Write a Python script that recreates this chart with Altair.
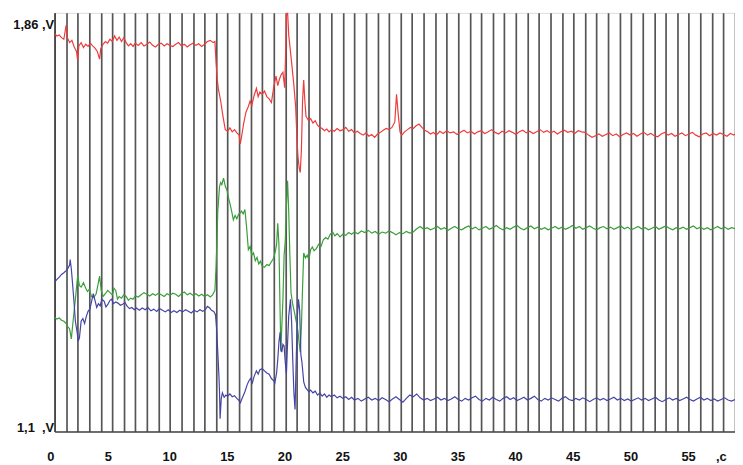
import altair as alt
import pandas as pd

# (time s, voltage V) samples
RED = [
    (0.0, 1.822), (0.2, 1.818), (0.4, 1.820), (0.6, 1.815), (0.8, 1.812), (1.0, 1.838), (1.1, 1.815),
    (1.3, 1.806), (1.5, 1.810), (1.7, 1.798), (1.9, 1.790), (2.0, 1.773), (2.1, 1.800), (2.3, 1.806),
    (2.5, 1.797), (2.7, 1.803), (2.9, 1.799), (3.1, 1.805), (3.3, 1.800), (3.5, 1.796), (3.7, 1.790),
    (3.9, 1.776), (4.0, 1.795), (4.2, 1.803), (4.4, 1.808), (4.6, 1.805), (4.8, 1.812), (5.0, 1.808),
    (5.2, 1.818), (5.4, 1.810), (5.6, 1.816), (5.8, 1.808), (6.0, 1.815), (6.2, 1.806), (6.4, 1.800),
    (6.6, 1.804), (6.8, 1.799), (7.0, 1.805), (7.25, 1.801), (7.5, 1.806), (7.75, 1.800), (8.0, 1.803),
    (8.25, 1.807), (8.5, 1.801), (8.75, 1.798), (9.0, 1.803), (9.25, 1.805), (9.5, 1.800), (9.75, 1.804),
    (10.0, 1.801), (10.25, 1.799), (10.5, 1.803), (10.75, 1.806), (11.0, 1.800), (11.25, 1.803),
    (11.5, 1.798), (11.75, 1.802), (12.0, 1.805), (12.25, 1.801), (12.5, 1.804), (12.75, 1.799),
    (13.0, 1.803), (13.25, 1.808), (13.5, 1.810), (13.75, 1.806), (13.9, 1.808), (14.0, 1.770),
    (14.1, 1.740), (14.2, 1.722), (14.4, 1.700), (14.6, 1.672), (14.8, 1.648), (15.0, 1.645),
    (15.2, 1.651), (15.4, 1.644), (15.6, 1.648), (15.8, 1.642), (16.0, 1.638), (16.1, 1.622),
    (16.25, 1.640), (16.4, 1.660), (16.6, 1.680), (16.8, 1.690), (16.95, 1.700), (17.1, 1.692),
    (17.3, 1.710), (17.5, 1.723), (17.65, 1.708), (17.8, 1.716), (18.0, 1.712), (18.2, 1.718),
    (18.4, 1.708), (18.6, 1.704), (18.8, 1.697), (19.0, 1.725), (19.2, 1.745), (19.35, 1.728),
    (19.5, 1.740), (19.65, 1.748), (19.8, 1.752), (19.95, 1.724), (20.05, 1.800), (20.1, 1.855),
    (20.2, 1.862), (20.3, 1.820), (20.45, 1.790), (20.6, 1.760), (20.75, 1.728), (20.9, 1.690),
    (21.0, 1.640), (21.1, 1.600), (21.2, 1.580), (21.3, 1.570), (21.4, 1.610), (21.5, 1.700),
    (21.6, 1.738), (21.7, 1.700), (21.8, 1.672), (22.0, 1.665), (22.2, 1.668), (22.4, 1.660),
    (22.6, 1.664), (22.8, 1.656), (23.0, 1.652), (23.2, 1.650), (23.4, 1.646), (23.6, 1.649),
    (23.8, 1.644), (24.0, 1.648), (24.25, 1.645), (24.5, 1.650), (24.75, 1.646), (25.0, 1.648),
    (25.25, 1.652), (25.5, 1.645), (25.75, 1.648), (26.0, 1.642), (26.25, 1.645), (26.5, 1.641),
    (26.75, 1.638), (27.0, 1.642), (27.25, 1.636), (27.5, 1.639), (27.75, 1.634), (28.0, 1.640),
    (28.25, 1.643), (28.5, 1.647), (28.75, 1.650), (29.0, 1.648), (29.25, 1.652), (29.5, 1.662),
    (29.65, 1.712), (29.8, 1.675), (29.95, 1.644), (30.1, 1.638), (30.35, 1.644), (30.6, 1.648),
    (30.85, 1.652), (31.1, 1.650), (31.35, 1.655), (31.6, 1.658), (31.85, 1.652), (32.1, 1.647),
    (32.35, 1.644), (32.6, 1.640), (32.85, 1.643), (33.1, 1.638), (33.4, 1.645), (33.7, 1.641),
    (34.0, 1.646), (34.3, 1.642), (34.6, 1.644), (34.9, 1.639), (35.2, 1.643), (35.5, 1.647),
    (35.8, 1.642), (36.1, 1.645), (36.4, 1.640), (36.7, 1.644), (37.0, 1.646), (37.3, 1.641),
    (37.6, 1.644), (37.9, 1.648), (38.2, 1.643), (38.5, 1.640), (38.8, 1.645), (39.1, 1.642),
    (39.4, 1.646), (39.7, 1.643), (40.0, 1.639), (40.3, 1.644), (40.6, 1.647), (40.9, 1.642),
    (41.2, 1.645), (41.5, 1.641), (41.8, 1.644), (42.1, 1.648), (42.4, 1.643), (42.7, 1.646),
    (43.0, 1.642), (43.3, 1.645), (43.6, 1.640), (43.9, 1.644), (44.2, 1.647), (44.5, 1.643),
    (44.8, 1.645), (45.1, 1.641), (45.4, 1.646), (45.7, 1.644), (46.0, 1.643), (46.3, 1.638),
    (46.6, 1.634), (46.9, 1.637), (47.2, 1.640), (47.5, 1.636), (47.8, 1.639), (48.1, 1.642),
    (48.4, 1.637), (48.7, 1.640), (49.0, 1.635), (49.3, 1.639), (49.6, 1.642), (49.9, 1.638),
    (50.2, 1.641), (50.5, 1.636), (50.8, 1.640), (51.1, 1.643), (51.4, 1.638), (51.7, 1.641),
    (52.0, 1.637), (52.3, 1.635), (52.6, 1.640), (52.9, 1.643), (53.2, 1.638), (53.5, 1.641),
    (53.8, 1.636), (54.1, 1.639), (54.4, 1.642), (54.7, 1.637), (55.0, 1.640), (55.3, 1.643),
    (55.6, 1.638), (55.9, 1.635), (56.2, 1.640), (56.5, 1.642), (56.8, 1.637), (57.1, 1.641),
    (57.4, 1.638), (57.7, 1.642), (58.0, 1.639), (58.3, 1.636), (58.6, 1.641), (58.9, 1.638),
    (59.0, 1.640),
]

GREEN = [
    (0.0, 1.307), (0.2, 1.304), (0.4, 1.306), (0.6, 1.302), (0.8, 1.300), (1.0, 1.296), (1.15, 1.290),
    (1.3, 1.286), (1.45, 1.268), (1.6, 1.300), (1.8, 1.340), (2.0, 1.383), (2.15, 1.365), (2.3, 1.362),
    (2.5, 1.370), (2.7, 1.360), (2.85, 1.354), (3.0, 1.358), (3.2, 1.345), (3.4, 1.343), (3.6, 1.350),
    (3.75, 1.365), (3.9, 1.382), (4.05, 1.355), (4.2, 1.345), (4.4, 1.350), (4.6, 1.356), (4.8, 1.352),
    (5.0, 1.348), (5.15, 1.360), (5.3, 1.356), (5.45, 1.340), (5.6, 1.345), (5.8, 1.342), (6.0, 1.348),
    (6.2, 1.345), (6.4, 1.338), (6.6, 1.342), (6.8, 1.340), (7.0, 1.346), (7.25, 1.344), (7.5, 1.348),
    (7.75, 1.352), (8.0, 1.349), (8.25, 1.346), (8.5, 1.350), (8.75, 1.347), (9.0, 1.351), (9.25, 1.348),
    (9.5, 1.345), (9.75, 1.350), (10.0, 1.347), (10.25, 1.351), (10.5, 1.349), (10.75, 1.345),
    (11.0, 1.350), (11.25, 1.353), (11.5, 1.348), (11.75, 1.351), (12.0, 1.347), (12.25, 1.350),
    (12.5, 1.346), (12.75, 1.349), (13.0, 1.345), (13.25, 1.348), (13.5, 1.344), (13.7, 1.348),
    (13.9, 1.356), (14.0, 1.400), (14.05, 1.430), (14.15, 1.500), (14.3, 1.545), (14.4, 1.552),
    (14.5, 1.548), (14.65, 1.560), (14.8, 1.545), (14.95, 1.538), (15.1, 1.522), (15.2, 1.514),
    (15.35, 1.500), (15.5, 1.484), (15.65, 1.492), (15.8, 1.486), (15.95, 1.494), (16.1, 1.497),
    (16.2, 1.500), (16.35, 1.495), (16.5, 1.503), (16.65, 1.470), (16.8, 1.430), (16.95, 1.436),
    (17.1, 1.420), (17.25, 1.424), (17.4, 1.410), (17.55, 1.416), (17.7, 1.404), (17.85, 1.409),
    (18.0, 1.400), (18.2, 1.398), (18.4, 1.403), (18.6, 1.401), (18.8, 1.408), (19.0, 1.415),
    (19.15, 1.428), (19.25, 1.440), (19.35, 1.478), (19.45, 1.440), (19.55, 1.320), (19.62, 1.245),
    (19.7, 1.290), (19.8, 1.340), (19.9, 1.420), (20.0, 1.445), (20.1, 1.510), (20.2, 1.555),
    (20.3, 1.500), (20.4, 1.420), (20.5, 1.352), (20.65, 1.330), (20.8, 1.316), (20.95, 1.300),
    (21.1, 1.282), (21.2, 1.262), (21.3, 1.244), (21.4, 1.290), (21.5, 1.360), (21.6, 1.424),
    (21.75, 1.415), (21.9, 1.420), (22.05, 1.412), (22.2, 1.430), (22.35, 1.435), (22.5, 1.428),
    (22.7, 1.432), (22.9, 1.440), (23.1, 1.436), (23.3, 1.448), (23.5, 1.452), (23.7, 1.449),
    (23.9, 1.458), (24.1, 1.462), (24.3, 1.455), (24.5, 1.459), (24.75, 1.453), (25.0, 1.458),
    (25.25, 1.456), (25.5, 1.461), (25.75, 1.458), (26.0, 1.462), (26.3, 1.459), (26.6, 1.464),
    (26.9, 1.461), (27.2, 1.465), (27.5, 1.460), (27.8, 1.463), (28.1, 1.458), (28.4, 1.462),
    (28.7, 1.460), (29.0, 1.464), (29.3, 1.461), (29.6, 1.457), (29.9, 1.461), (30.2, 1.459),
    (30.5, 1.463), (30.8, 1.460), (31.1, 1.462), (31.4, 1.468), (31.7, 1.472), (32.0, 1.467),
    (32.3, 1.470), (32.6, 1.466), (32.9, 1.469), (33.2, 1.472), (33.5, 1.467), (33.8, 1.470),
    (34.1, 1.465), (34.4, 1.469), (34.7, 1.472), (35.0, 1.468), (35.3, 1.466), (35.6, 1.470),
    (35.9, 1.473), (36.2, 1.468), (36.5, 1.471), (36.8, 1.466), (37.1, 1.469), (37.4, 1.472),
    (37.7, 1.467), (38.0, 1.470), (38.3, 1.474), (38.6, 1.469), (38.9, 1.466), (39.2, 1.470),
    (39.5, 1.467), (39.8, 1.471), (40.1, 1.474), (40.4, 1.469), (40.7, 1.466), (41.0, 1.470),
    (41.3, 1.473), (41.6, 1.468), (41.9, 1.471), (42.2, 1.467), (42.5, 1.470), (42.8, 1.466),
    (43.1, 1.469), (43.4, 1.472), (43.7, 1.468), (44.0, 1.471), (44.3, 1.467), (44.6, 1.470),
    (44.9, 1.474), (45.2, 1.469), (45.5, 1.472), (45.8, 1.467), (46.1, 1.470), (46.4, 1.473),
    (46.7, 1.469), (47.0, 1.466), (47.3, 1.470), (47.6, 1.472), (47.9, 1.468), (48.2, 1.471),
    (48.5, 1.467), (48.8, 1.470), (49.1, 1.473), (49.4, 1.468), (49.7, 1.471), (50.0, 1.466),
    (50.3, 1.469), (50.6, 1.472), (50.9, 1.468), (51.2, 1.470), (51.5, 1.466), (51.8, 1.469),
    (52.1, 1.472), (52.4, 1.467), (52.7, 1.470), (53.0, 1.473), (53.3, 1.469), (53.6, 1.466),
    (53.9, 1.470), (54.2, 1.468), (54.5, 1.471), (54.8, 1.467), (55.1, 1.470), (55.4, 1.473),
    (55.7, 1.468), (56.0, 1.471), (56.3, 1.467), (56.6, 1.470), (56.9, 1.466), (57.2, 1.469),
    (57.5, 1.472), (57.8, 1.468), (58.1, 1.471), (58.4, 1.467), (58.7, 1.470), (59.0, 1.468),
]

BLUE = [
    (0.0, 1.371), (0.2, 1.376), (0.4, 1.380), (0.6, 1.385), (0.8, 1.388), (1.0, 1.392), (1.15, 1.396),
    (1.3, 1.402), (1.35, 1.412), (1.45, 1.395), (1.55, 1.370), (1.7, 1.330), (1.8, 1.300), (1.95, 1.280),
    (2.05, 1.264), (2.15, 1.270), (2.3, 1.300), (2.45, 1.305), (2.6, 1.296), (2.75, 1.309), (2.9, 1.318),
    (3.05, 1.322), (3.2, 1.335), (3.35, 1.350), (3.5, 1.338), (3.65, 1.325), (3.8, 1.332), (3.95, 1.328),
    (4.1, 1.340), (4.3, 1.336), (4.45, 1.326), (4.6, 1.330), (4.8, 1.338), (4.95, 1.340), (5.1, 1.332),
    (5.3, 1.335), (5.5, 1.333), (5.7, 1.329), (5.9, 1.331), (6.1, 1.334), (6.3, 1.327), (6.5, 1.323),
    (6.7, 1.325), (6.9, 1.321), (7.1, 1.324), (7.35, 1.320), (7.6, 1.324), (7.85, 1.321), (8.1, 1.325),
    (8.35, 1.319), (8.6, 1.322), (8.85, 1.318), (9.1, 1.323), (9.35, 1.320), (9.6, 1.317), (9.85, 1.321),
    (10.1, 1.316), (10.35, 1.319), (10.6, 1.316), (10.85, 1.320), (11.1, 1.317), (11.35, 1.321),
    (11.6, 1.318), (11.85, 1.315), (12.1, 1.320), (12.35, 1.317), (12.6, 1.321), (12.85, 1.318),
    (13.1, 1.322), (13.25, 1.327), (13.45, 1.324), (13.6, 1.320), (13.8, 1.318), (13.95, 1.312),
    (14.05, 1.286), (14.15, 1.244), (14.25, 1.200), (14.3, 1.172), (14.35, 1.123), (14.45, 1.160),
    (14.55, 1.170), (14.7, 1.162), (14.85, 1.166), (15.0, 1.164), (15.2, 1.168), (15.4, 1.163),
    (15.6, 1.165), (15.8, 1.160), (16.0, 1.156), (16.1, 1.152), (16.3, 1.162), (16.5, 1.172),
    (16.7, 1.185), (16.85, 1.192), (17.0, 1.196), (17.15, 1.188), (17.3, 1.200), (17.5, 1.210),
    (17.65, 1.204), (17.8, 1.212), (18.0, 1.214), (18.2, 1.210), (18.4, 1.206), (18.6, 1.204),
    (18.8, 1.196), (19.0, 1.192), (19.1, 1.188), (19.25, 1.206), (19.35, 1.230), (19.45, 1.262),
    (19.55, 1.280), (19.62, 1.250), (19.7, 1.244), (19.8, 1.258), (19.9, 1.255), (20.0, 1.225),
    (20.1, 1.205), (20.2, 1.260), (20.3, 1.309), (20.45, 1.340), (20.55, 1.300), (20.65, 1.230),
    (20.75, 1.170), (20.85, 1.140), (20.95, 1.230), (21.05, 1.309), (21.15, 1.340), (21.25, 1.320),
    (21.35, 1.240), (21.45, 1.225), (21.6, 1.190), (21.75, 1.180), (21.9, 1.176), (22.05, 1.172),
    (22.2, 1.175), (22.4, 1.170), (22.6, 1.173), (22.8, 1.166), (23.0, 1.170), (23.2, 1.164),
    (23.4, 1.168), (23.6, 1.162), (23.8, 1.166), (24.0, 1.163), (24.25, 1.166), (24.5, 1.161),
    (24.75, 1.164), (25.0, 1.160), (25.25, 1.163), (25.5, 1.158), (25.75, 1.162), (26.0, 1.157),
    (26.3, 1.160), (26.6, 1.155), (26.9, 1.159), (27.2, 1.162), (27.5, 1.157), (27.8, 1.160),
    (28.1, 1.156), (28.4, 1.161), (28.7, 1.158), (29.0, 1.154), (29.3, 1.159), (29.6, 1.163),
    (29.9, 1.158), (30.2, 1.153), (30.5, 1.160), (30.8, 1.166), (31.1, 1.163), (31.4, 1.168),
    (31.7, 1.161), (32.0, 1.157), (32.3, 1.160), (32.6, 1.156), (32.9, 1.159), (33.2, 1.162),
    (33.5, 1.157), (33.8, 1.160), (34.1, 1.156), (34.4, 1.159), (34.7, 1.163), (35.0, 1.158),
    (35.3, 1.155), (35.6, 1.160), (35.9, 1.157), (36.2, 1.161), (36.5, 1.164), (36.8, 1.158),
    (37.1, 1.155), (37.4, 1.160), (37.7, 1.157), (38.0, 1.162), (38.3, 1.158), (38.6, 1.155),
    (38.9, 1.160), (39.2, 1.163), (39.5, 1.158), (39.8, 1.161), (40.1, 1.156), (40.4, 1.159),
    (40.7, 1.162), (41.0, 1.157), (41.3, 1.160), (41.6, 1.164), (41.9, 1.158), (42.2, 1.155),
    (42.5, 1.160), (42.8, 1.157), (43.1, 1.161), (43.4, 1.158), (43.7, 1.155), (44.0, 1.160),
    (44.3, 1.163), (44.6, 1.158), (44.9, 1.156), (45.2, 1.160), (45.5, 1.157), (45.8, 1.161),
    (46.1, 1.158), (46.4, 1.154), (46.7, 1.158), (47.0, 1.161), (47.3, 1.157), (47.6, 1.160),
    (47.9, 1.156), (48.2, 1.159), (48.5, 1.162), (48.8, 1.157), (49.1, 1.160), (49.4, 1.156),
    (49.7, 1.159), (50.0, 1.155), (50.3, 1.158), (50.6, 1.161), (50.9, 1.157), (51.2, 1.160),
    (51.5, 1.156), (51.8, 1.159), (52.1, 1.162), (52.4, 1.157), (52.7, 1.154), (53.0, 1.158),
    (53.3, 1.161), (53.6, 1.157), (53.9, 1.160), (54.2, 1.156), (54.5, 1.159), (54.8, 1.162),
    (55.1, 1.158), (55.4, 1.155), (55.7, 1.159), (56.0, 1.162), (56.3, 1.157), (56.6, 1.160),
    (56.9, 1.156), (57.2, 1.159), (57.5, 1.155), (57.8, 1.158), (58.1, 1.161), (58.4, 1.157),
    (58.7, 1.155), (59.0, 1.158),
]

SERIES = ["red", "green", "blue"]
COLORS = ["#ee3b3b", "#3a9e3a", "#4444a6"]
X_GRID = list(range(0, 60))
Y_TICKS = [1.1, 1.86]

rows = []
for name, data in zip(SERIES, [RED, GREEN, BLUE]):
    for i, (t, v) in enumerate(data):
        rows.append({"t": t, "v": v, "s": name, "i": i})
df = pd.DataFrame(rows)

font = "Liberation Sans"

chart = (
    alt.Chart(df)
    .mark_line(strokeWidth=1.2, clip=True)
    .encode(
        x=alt.X(
            "t:Q",
            scale=alt.Scale(domain=[0, 59], nice=False, zero=False),
            axis=alt.Axis(
                values=X_GRID,
                grid=True,
                gridColor="#555555",
                gridWidth=1.7,
                gridOpacity=1,
                ticks=False,
                tickSize=0,
                domain=True,
                domainColor="#444444",
                domainWidth=1.5,
                labelExpr="(datum.value % 5 == 0 && datum.value <= 55) ? datum.label : (datum.value == 58 ? ',c' : '')",
                labelAlign="left",
                labelOffset=-8,
                labelBaseline="top",
                labelPadding=19,
                labelFlush=False,
                labelOverlap=False,
                labelBound=False,
                labelFont=font,
                labelFontSize=13,
                labelFontWeight="bold",
                labelColor="#111111",
                title=None,
            ),
        ),
        y=alt.Y(
            "v:Q",
            scale=alt.Scale(domain=[1.1, 1.86], nice=False, zero=False),
            axis=alt.Axis(
                values=Y_TICKS,
                grid=False,
                ticks=False,
                tickSize=0,
                domain=True,
                domainColor="#444444",
                domainWidth=1.5,
                labelExpr="datum.value > 1.5 ? '1,86 ,V' : '1,1\u00a0\u00a0,V'",
                labelAlign="right",
                labelBaseline="middle",
                labelOffset={"condition": {"test": "datum.value > 1.5", "value": 12}, "value": -4},
                labelPadding=1,
                labelFlush=False,
                labelOverlap=False,
                labelBound=False,
                labelFont=font,
                labelFontSize=13,
                labelFontWeight="bold",
                labelColor="#111111",
                title=None,
            ),
        ),
        color=alt.Color("s:N", scale=alt.Scale(domain=SERIES, range=COLORS), legend=None),
        order="i:Q",
    )
    .properties(
        width=686,
        height=422,
        autosize=alt.AutoSizeParams(type="none"),
        padding={"left": 47, "top": 3, "right": 0, "bottom": 36},
    )
    .configure_view(stroke="#555555", strokeWidth=1.5)
    .configure(background="white")
)

chart.save("out.html", embed_options={"renderer": "svg", "actions": False})
